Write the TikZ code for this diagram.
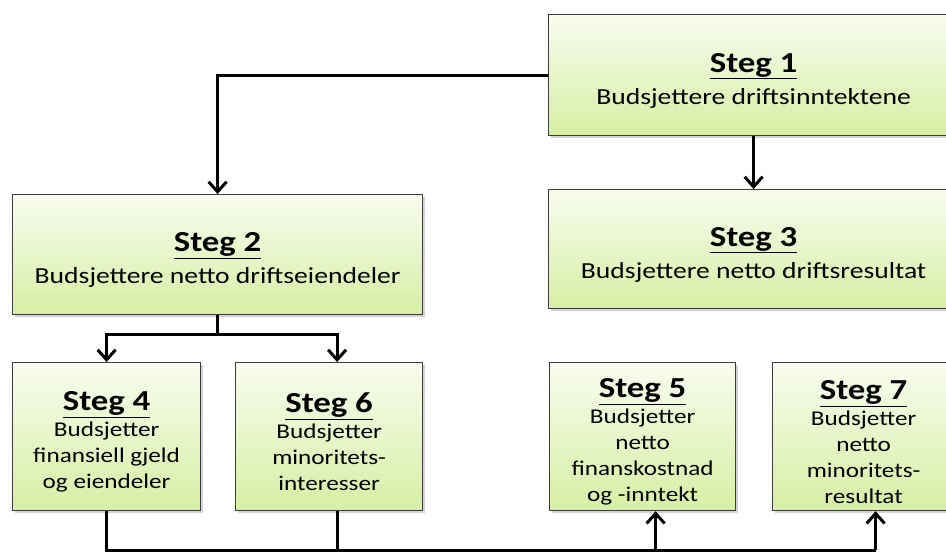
\documentclass[tikz,border=0pt]{standalone}
\usepackage{fontspec}
\setmainfont[FakeStretch=1.2]{Carlito}
\usetikzlibrary{arrows.meta,calc,shadows}
\definecolor{stegtop}{RGB}{248,252,238}
\definecolor{stegbot}{RGB}{214,239,164}
\definecolor{stegline}{RGB}{60,60,60}
\newcommand{\steghead}[1]{{\fontsize{29}{30}\selectfont\bfseries\rule{0pt}{30pt}\underline{#1}}}

\begin{document}
\begin{tikzpicture}[x=1pt,y=-1pt,
	stegbox/.style={draw=stegline,line width=1.2pt,top color=stegtop,bottom color=stegbot,anchor=north west,align=center,inner sep=2pt,drop shadow={shadow xshift=2pt,shadow yshift=-2pt,opacity=0.35}},
	wide/.style={stegbox,minimum width=410pt,font=\fontsize{23}{32}\selectfont},
	narrow/.style={stegbox,minimum height=148pt,font=\fontsize{21}{26}\selectfont},
	link/.style={line width=3pt},
	flow/.style={link,-{Straight Barb[length=10pt,width=18pt,line width=3pt]}}]
\useasboundingbox (0,0) rectangle (946,555);
\clip (0,0) rectangle (946,555);
\node[wide,minimum height=121pt] (s1) at (548,14) {\steghead{Steg 1}\\Budsjettere driftsinntektene};
\node[wide,minimum height=119pt] (s3) at (548,189) {\steghead{Steg 3}\\Budsjettere netto driftsresultat};
\node[wide,minimum height=120pt] (s2) at (12,194) {\steghead{Steg 2}\\Budsjettere netto driftseiendeler};
\node[narrow,minimum width=188pt] (s4) at (12,362) {\steghead{Steg 4}\\Budsjetter\\finansiell gjeld\\og eiendeler};
\node[narrow,minimum width=187pt] (s6) at (235,362) {\steghead{Steg 6}\\Budsjetter\\minoritets-\\interesser};
\node[narrow,minimum width=186pt] (s5) at (549,362) {\steghead{Steg 5}\\Budsjetter\\netto\\finanskostnad\\og -inntekt};
\node[narrow,minimum width=182pt] (s7) at (772,362) {\steghead{Steg 7}\\Budsjetter\\netto\\minoritets-\\resultat};
\coordinate (bus) at (0,550);
\draw[flow] (s1.west) -| (s2.north);
\draw[flow] (s1.south) -- (s3.north);
\draw[link] (s2.south) -- ++(0,19) coordinate (split);
\draw[flow] (split) -| (s4.north);
\draw[flow] (split) -| ($(s6.north)+(8,0)$);
\draw[link] (s4.south) |- ($(s7.south |- bus)+(12,0)$);
\draw[link] ($(s6.south)+(8,0)$) -- ($(s6.south |- bus)+(8,0)$);
\draw[flow] ($(s5.south |- bus)+(13,0)$) -- ($(s5.south)+(13,0)$);
\draw[flow] ($(s7.south |- bus)+(12,0)$) -- ($(s7.south)+(12,0)$);
\end{tikzpicture}
\end{document}
